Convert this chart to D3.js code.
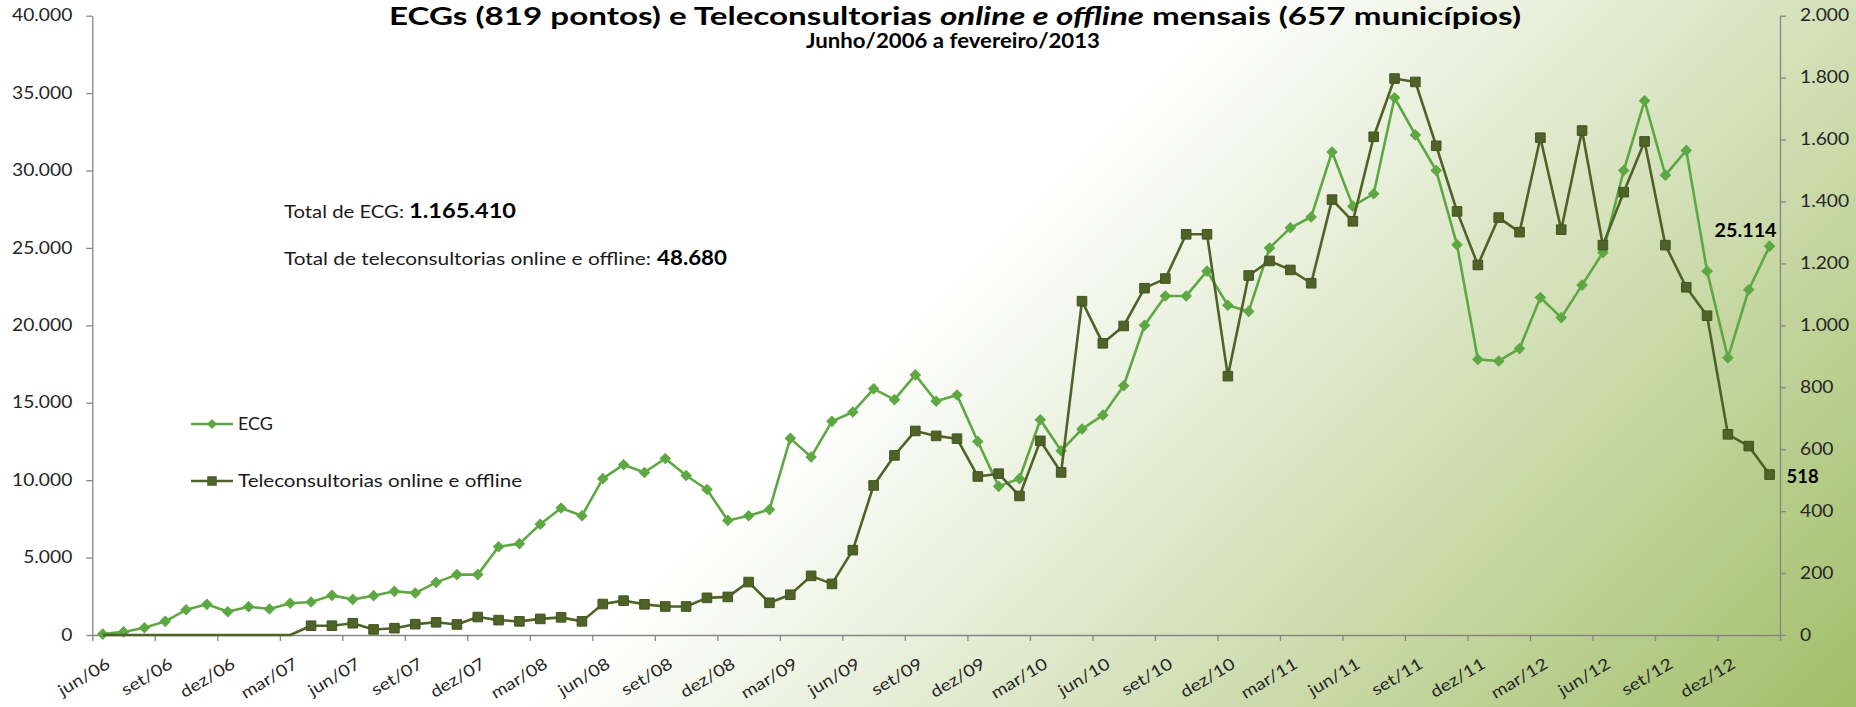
<!DOCTYPE html>
<html>
<head>
<meta charset="utf-8">
<script src="https://cdn.jsdelivr.net/npm/d3@7"></script>
<style>
body{margin:0;background:#fff;}
text{font-family:Lato,"Open Sans",sans-serif;}
</style>
</head>
<body>
<svg id="chart"></svg>
<script>
// months jun/06 .. fev/13
var months = ["jun/06","jul/06","ago/06","set/06","out/06","nov/06","dez/06",
    "jan/07","fev/07","mar/07","abr/07","mai/07","jun/07","jul/07","ago/07","set/07","out/07","nov/07","dez/07",
    "jan/08","fev/08","mar/08","abr/08","mai/08","jun/08","jul/08","ago/08","set/08","out/08","nov/08","dez/08",
    "jan/09","fev/09","mar/09","abr/09","mai/09","jun/09","jul/09","ago/09","set/09","out/09","nov/09","dez/09",
    "jan/10","fev/10","mar/10","abr/10","mai/10","jun/10","jul/10","ago/10","set/10","out/10","nov/10","dez/10",
    "jan/11","fev/11","mar/11","abr/11","mai/11","jun/11","jul/11","ago/11","set/11","out/11","nov/11","dez/11",
    "jan/12","fev/12","mar/12","abr/12","mai/12","jun/12","jul/12","ago/12","set/12","out/12","nov/12","dez/12",
    "jan/13","fev/13"];

// ECGs per month (left axis)
var ecg = [60,200,470,880,1630,1980,1500,1830,1680,2050,2130,2560,2300,2540,2820,2710,
    3400,3900,3900,5700,5900,7150,8200,7700,10100,11000,10500,11400,10300,9400,7400,
    7700,8100,12700,11500,13800,14400,15900,15200,16800,15100,15500,12500,
    9600,10100,13900,11900,13300,14200,16100,20000,21900,21900,23500,21300,
    20900,25000,26300,27000,31200,27700,28500,34700,32300,30000,25200,17800,
    17700,18500,21800,20500,22600,24700,30000,34500,29700,31300,23500,17900,
    22300,25114];

// teleconsultorias online e offline per month (right axis)
var tele = [0,0,0,0,0,0,0,0,0,0,30,30,38,18,22,35,41,34,58,48,44,52,57,44,
    100,111,99,92,92,120,123,171,104,130,191,165,274,483,580,659,643,634,512,
    521,449,627,525,1078,942,998,1120,1151,1294,1294,836,
    1161,1208,1179,1136,1406,1336,1609,1797,1786,1580,1368,1195,
    1348,1301,1606,1309,1629,1259,1430,1594,1259,1123,1031,648,610,518];

var leftTicks = [0,5000,10000,15000,20000,25000,30000,35000,40000];
var rightTicks = [0,200,400,600,800,1000,1200,1400,1600,1800,2000];

var totalEcg = "1.165.410";
var totalTele = "48.680";

var ecgColor = "#5ea843";
var teleColor = "#4f6228";
var axisColor = "#868686";

var fmt = d3.formatLocale({decimal:",",thousands:".",grouping:[3],currency:["R$",""]}).format(",");

var stretch = function(sel,k)
{
    sel.each(function()
    {
        var w = this.getComputedTextLength();
        d3.select(this).attr("textLength",w*k).attr("lengthAdjust","spacingAndGlyphs");
    })
}

var fit = function(sel,w)
{
    sel.attr("textLength",w).attr("lengthAdjust","spacingAndGlyphs");
}

var initGraph = function(target)
{
    var screen = {width:1856, height:707};
    var plot = {left:92.3, right:1780, top:15.7, bottom:635};

    var svg = d3.select(target)
        .attr("width",screen.width)
        .attr("height",screen.height);

    //background gradient, white top left to green bottom right
    var grad = svg.append("defs").append("linearGradient")
        .attr("id","bg")
        .attr("gradientUnits","userSpaceOnUse")
        .attr("x1",0).attr("y1",0)
        .attr("x2",(screen.width+screen.height)/2)
        .attr("y2",(screen.width+screen.height)/2);
    grad.append("stop").attr("offset","0.48").attr("stop-color","#ffffff");
    grad.append("stop").attr("offset","1").attr("stop-color","#a2be69");

    svg.append("rect")
        .attr("width",screen.width)
        .attr("height",screen.height)
        .attr("fill","url(#bg)");

    var xScale = d3.scaleBand()
        .domain(months)
        .range([plot.left,plot.right])
        .padding(0);
    var xIndex = d3.scaleLinear()
        .domain([0,months.length])
        .range([plot.left,plot.right]);
    var yLeft = d3.scaleLinear()
        .domain([0,40000])
        .range([plot.bottom,plot.top]);
    var yRight = d3.scaleLinear()
        .domain([0,2000])
        .range([plot.bottom,plot.top]);

    createAxes(svg,plot,xScale,xIndex,yLeft,yRight);
    drawTitle(svg);
    drawSeries(svg,ecg,xScale,yLeft,ecgColor,"diamond");
    drawSeries(svg,tele,xScale,yRight,teleColor,"square");
    drawLabels(svg,xScale,yLeft,yRight);
    drawLegend(svg);
}

var createAxes = function(svg,plot,xScale,xIndex,yLeft,yRight)
{
    svg.append("g")
        .attr("class","axis")
        .attr("transform","translate("+plot.left+",0)")
        .call(d3.axisLeft(yLeft).tickValues(leftTicks).tickFormat(fmt)
            .tickSize(6).tickSizeOuter(0).tickPadding(14));

    svg.append("g")
        .attr("class","axis")
        .attr("transform","translate("+plot.right+",0)")
        .call(d3.axisRight(yRight).tickValues(rightTicks).tickFormat(fmt)
            .tickSize(6).tickSizeOuter(0).tickPadding(14));

    //tick marks between categories, every 3 months
    svg.append("g")
        .attr("class","axis")
        .attr("transform","translate(0,"+plot.bottom+")")
        .call(d3.axisBottom(xIndex).tickValues(d3.range(0,months.length+1,3))
            .tickFormat("").tickSize(6).tickSizeOuter(0));

    var labelAxis = svg.append("g")
        .attr("transform","translate(0,"+plot.bottom+")")
        .call(d3.axisBottom(xScale).tickValues(months.filter(function(d,i){return i%3==0;}))
            .tickSize(0));
    labelAxis.select(".domain").remove();
    labelAxis.selectAll("text")
        .attr("text-anchor","end")
        .attr("y",0)
        .attr("dy","0.72em")
        .attr("transform","translate(2.5,22) rotate(-31)");

    svg.selectAll(".axis path, .axis line")
        .attr("stroke",axisColor)
        .attr("stroke-width",1.3);

    svg.selectAll(".tick text")
        .attr("fill","#262626")
        .style("font-size","16.3px")
        .style("font-family","Lato");
    stretch(svg.selectAll(".tick text"),1.18);
}

var drawTitle = function(svg)
{
    //title sits right at the top edge, as in the original
    var title = svg.append("text")
        .attr("x",955)
        .attr("y",24.5)
        .attr("text-anchor","middle")
        .style("font-size","24.5px")
        .style("font-weight","bold")
        .attr("fill","#000");
    title.append("tspan").text("ECGs (819 pontos) e Teleconsultorias ");
    title.append("tspan").style("font-style","italic").text("online e offline");
    title.append("tspan").text(" mensais (657 municípios)");
    fit(title,1132);

    var sub = svg.append("text")
        .attr("x",953)
        .attr("y",48)
        .attr("text-anchor","middle")
        .style("font-size","20px")
        .style("font-weight","bold")
        .attr("fill","#000")
        .text("Junho/2006 a fevereiro/2013");
    fit(sub,294);

    //totals box
    var t1 = svg.append("text").attr("x",284).attr("y",218)
        .style("font-size","17px").attr("fill","#1a1a1a").text("Total de ECG:");
    fit(t1,120);
    var n1 = svg.append("text").attr("x",409).attr("y",218)
        .style("font-size","20px").style("font-weight","bold").attr("fill","#000").text(totalEcg);
    fit(n1,107);
    var t2 = svg.append("text").attr("x",284).attr("y",265)
        .style("font-size","17px").attr("fill","#1a1a1a").text("Total de teleconsultorias online e offline:");
    fit(t2,367);
    var n2 = svg.append("text").attr("x",657).attr("y",265)
        .style("font-size","20px").style("font-weight","bold").attr("fill","#000").text(totalTele);
    fit(n2,70);
}

var marker = function(shape)
{
    if(shape=="diamond")
    {
        return d3.symbol().type(d3.symbolSquare).size(52)();
    }
    return d3.symbol().type(d3.symbolSquare).size(92)();
}

var drawSeries = function(svg,values,xScale,yScale,color,shape)
{
    var points = values.map(function(v,i){ return {month:months[i], value:v}; });
    var cx = function(d){ return xScale(d.month)+xScale.bandwidth()/2; };
    var cy = function(d){ return yScale(d.value); };

    var line = d3.line().x(cx).y(cy);

    svg.append("path")
        .datum(points)
        .attr("d",line)
        .attr("fill","none")
        .attr("stroke",color)
        .attr("stroke-width",2.6)
        .attr("stroke-linejoin","round");

    //no marker where the month has no value yet
    svg.append("g")
        .selectAll("path")
        .data(points.filter(function(d){ return d.value>0; }))
        .enter()
        .append("path")
        .attr("d",marker(shape))
        .attr("transform",function(d)
        {
            return "translate("+cx(d)+","+cy(d)+")"+(shape=="diamond"?" rotate(45)":"");
        })
        .attr("fill",color)
        .attr("stroke",shape=="square"?"#435421":color)
        .attr("stroke-width",1);
}

var drawLabels = function(svg,xScale,yLeft,yRight)
{
    var last = months.length-1;
    var cx = xScale(months[last])+xScale.bandwidth()/2;

    var l1 = svg.append("text")
        .attr("x",cx+7)
        .attr("y",yLeft(ecg[last])-9.5)
        .attr("text-anchor","end")
        .style("font-size","18.5px")
        .style("font-weight","bold")
        .attr("fill","#000")
        .text(fmt(ecg[last]));
    fit(l1,62);

    var l2 = svg.append("text")
        .attr("x",cx+17)
        .attr("y",yRight(tele[last])+8)
        .style("font-size","18.5px")
        .style("font-weight","bold")
        .attr("fill","#000")
        .text(fmt(tele[last]));
    fit(l2,32);
}

var drawLegend = function(svg)
{
    var items = [
        {name:"ECG", color:ecgColor, shape:"diamond", y:424, w:35},
        {name:"Teleconsultorias online e offline", color:teleColor, shape:"square", y:481, w:284}
    ];
    var g = svg.append("g");
    items.forEach(function(it)
    {
        g.append("line")
            .attr("x1",191).attr("x2",233)
            .attr("y1",it.y).attr("y2",it.y)
            .attr("stroke",it.color)
            .attr("stroke-width",2.6);
        g.append("path")
            .attr("d",marker(it.shape))
            .attr("transform","translate(212,"+it.y+")"+(it.shape=="diamond"?" rotate(45)":""))
            .attr("fill",it.color);
        var t = g.append("text")
            .attr("x",238)
            .attr("y",it.y+6)
            .style("font-size","18px")
            .attr("fill","#1a1a1a")
            .text(it.name);
        fit(t,it.w);
    });
}

initGraph("#chart");
</script>
</body>
</html>
